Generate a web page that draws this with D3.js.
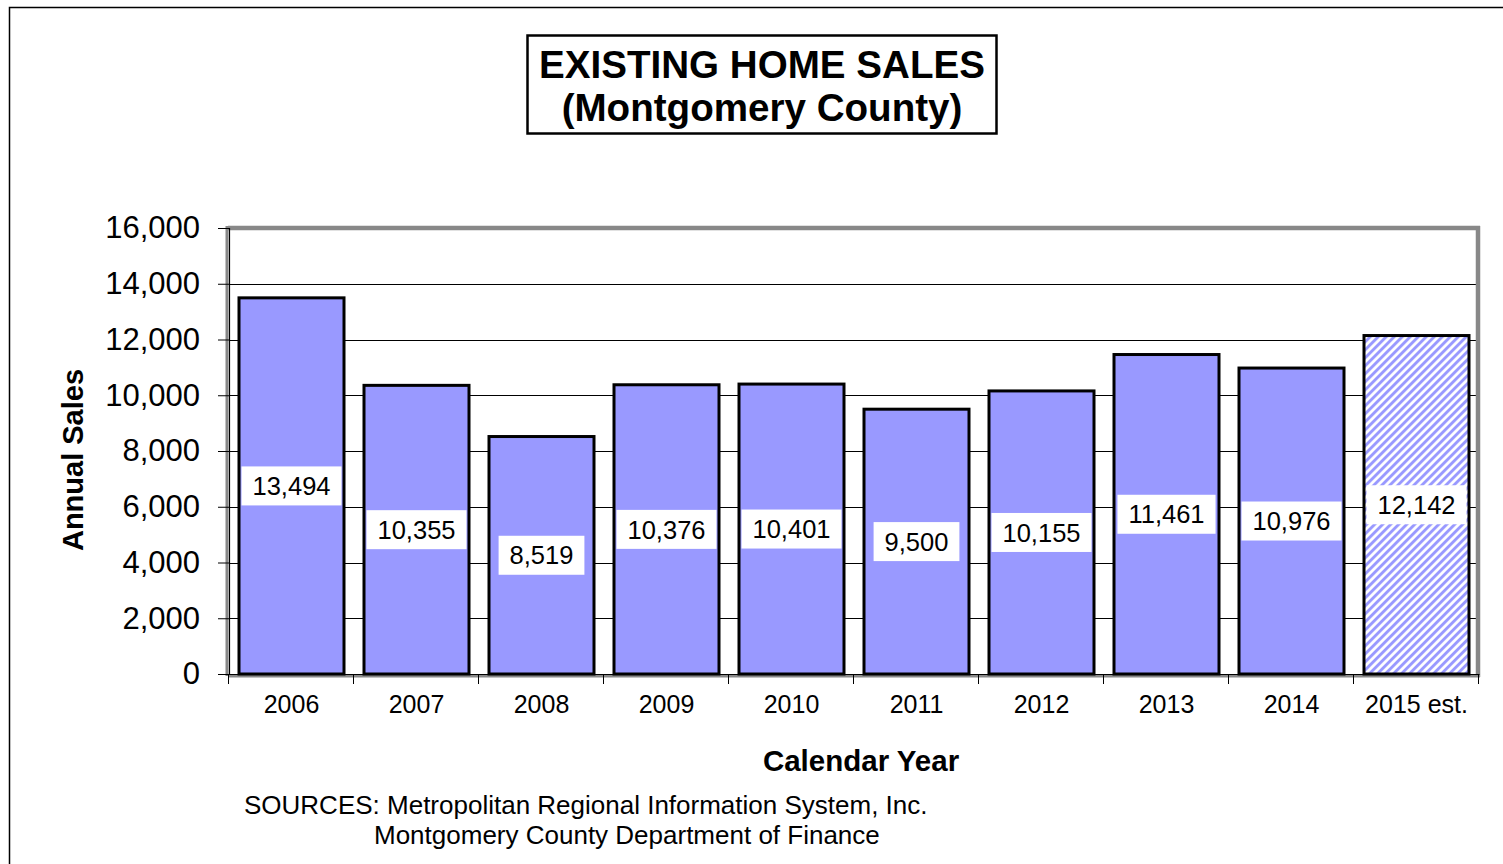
<!DOCTYPE html>
<html>
<head>
<meta charset="utf-8">
<script src="https://cdn.jsdelivr.net/npm/d3@7"></script>
<style>
  html, body { margin: 0; padding: 0; background: #fff; }
  svg { display: block; font-family: Arial, "Liberation Sans", sans-serif; }
</style>
</head>
<body>
<svg id="chart" width="1503" height="864"></svg>
<script>
// Annual existing home sales, Montgomery County
const years = ["2006", "2007", "2008", "2009", "2010", "2011", "2012", "2013", "2014", "2015 est."];
const sales = [13494, 10355, 8519, 10376, 10401, 9500, 10155, 11461, 10976, 12142];
const estimated = [false, false, false, false, false, false, false, false, false, true];
const yTicks = [0, 2000, 4000, 6000, 8000, 10000, 12000, 14000, 16000];
const titleLines = ["EXISTING HOME SALES", "(Montgomery County)"];
const sourceLines = ["SOURCES: Metropolitan Regional Information System, Inc.",
                     "Montgomery County Department of Finance"];

const svg = d3.select("#chart");
const fmt = d3.format(",");
const barColor = "#9999ff";
const wallGray = "#888888";

// plot area
const plot = { left: 229, right: 1479, top: 228, bottom: 674 };

const x = d3.scaleBand()
  .domain(years)
  .range([plot.left, plot.right])
  .paddingInner(0.16)
  .paddingOuter(0.08);

const y = d3.scaleLinear()
  .domain([0, 16000])
  .range([plot.bottom, plot.top]);

// hatch pattern for the estimate
const defs = svg.append("defs");
const pat = defs.append("pattern")
  .attr("id", "hatch")
  .attr("patternUnits", "userSpaceOnUse")
  .attr("width", 5.66).attr("height", 8)
  .attr("patternTransform", "rotate(45)");
pat.append("rect").attr("width", 5.66).attr("height", 8).attr("fill", "#fff");
pat.append("rect").attr("width", 2.9).attr("height", 8).attr("fill", barColor);

// outer frame
svg.append("rect")
  .attr("x", 9.5).attr("y", 7.5)
  .attr("width", 1600).attr("height", 1000)
  .attr("fill", "none").attr("stroke", "#000").attr("stroke-width", 1.5);

// title box
const tb = svg.append("g");
tb.append("rect")
  .attr("x", 527.5).attr("y", 35.5)
  .attr("width", 469).attr("height", 98)
  .attr("fill", "#fff").attr("stroke", "#000").attr("stroke-width", 2.5);
tb.selectAll("text").data(titleLines).join("text")
  .attr("x", 762)
  .attr("y", (d, i) => 78 + i * 43)
  .attr("text-anchor", "middle")
  .attr("font-size", 38.6).attr("font-weight", "bold")
  .text(d => d);

// gridlines
svg.append("g")
  .selectAll("line").data(yTicks.filter(t => t > 0 && t < 16000)).join("line")
  .attr("x1", plot.left).attr("x2", plot.right - 2)
  .attr("y1", d => Math.round(y(d)) + 0.5).attr("y2", d => Math.round(y(d)) + 0.5)
  .attr("stroke", "#000").attr("stroke-width", 1);

// shaded wall edges
const walls = svg.append("g").attr("stroke", wallGray).attr("fill", "none");
walls.append("line").attr("x1", plot.left - 1).attr("x2", plot.right + 1)
  .attr("y1", plot.top).attr("y2", plot.top).attr("stroke-width", 4.5);
walls.append("line").attr("x1", plot.right - 1).attr("x2", plot.right - 1)
  .attr("y1", plot.top - 2).attr("y2", plot.bottom + 3).attr("stroke-width", 4.5);
walls.append("line").attr("x1", plot.left - 2).attr("x2", plot.left - 2)
  .attr("y1", plot.top - 2).attr("y2", plot.bottom + 2).attr("stroke-width", 3);
walls.append("line").attr("x1", plot.left).attr("x2", plot.right + 1)
  .attr("y1", plot.bottom + 2).attr("y2", plot.bottom + 2).attr("stroke-width", 3);

// bars
svg.append("g")
  .selectAll("rect").data(years).join("rect")
  .attr("x", d => x(d))
  .attr("y", (d, i) => y(sales[i]))
  .attr("width", x.bandwidth())
  .attr("height", (d, i) => y(0) - y(sales[i]))
  .attr("fill", (d, i) => estimated[i] ? "url(#hatch)" : barColor)
  .attr("stroke", "#000").attr("stroke-width", 3);

// y axis
const yAxis = svg.append("g")
  .attr("transform", `translate(${plot.left},0)`)
  .call(d3.axisLeft(y).tickValues(yTicks).tickFormat(fmt).tickSize(11).tickPadding(18));
yAxis.select(".domain").attr("stroke", "#000").attr("stroke-width", 1.2);
yAxis.selectAll(".tick line").attr("stroke", "#000");
yAxis.selectAll(".tick text")
  .attr("font-size", 31).attr("fill", "#000")
  .attr("font-family", "Arial, 'Liberation Sans', sans-serif");

// x axis: labels centred in bands, tick marks on band boundaries
const xAxis = svg.append("g")
  .attr("transform", `translate(0,${plot.bottom})`)
  .call(d3.axisBottom(x).tickSize(0).tickPadding(21));
xAxis.select(".domain").attr("stroke", "#000").attr("stroke-width", 1.2);
xAxis.selectAll(".tick text")
  .attr("font-size", 25).attr("fill", "#000")
  .attr("font-family", "Arial, 'Liberation Sans', sans-serif");
const half = (x.step() - x.bandwidth()) / 2;
const bounds = years.map(d => x(d) - half).concat([x(years[years.length - 1]) + x.bandwidth() + half]);
xAxis.append("g").selectAll("line").data(bounds).join("line")
  .attr("x1", d => d - 0.5).attr("x2", d => d - 0.5)
  .attr("y1", 0).attr("y2", 10)
  .attr("stroke", "#000").attr("stroke-width", 1);

// value labels on white boxes, centred at mid-height of each bar
const lbl = svg.append("g").selectAll("g").data(years).join("g")
  .attr("transform", (d, i) => `translate(${x(d) + x.bandwidth() / 2},${y(sales[i] / 2)})`);
lbl.append("text")
  .attr("text-anchor", "middle").attr("dy", "0.36em")
  .attr("font-size", 25.5)
  .text((d, i) => fmt(sales[i]));
lbl.each(function () {
  const g = d3.select(this);
  const bb = g.select("text").node().getBBox();
  g.insert("rect", "text")
    .attr("x", bb.x - 11).attr("y", -19.5)
    .attr("width", bb.width + 22).attr("height", 39)
    .attr("fill", "#fff");
});

// axis titles
svg.append("text")
  .attr("transform", "translate(83,460) rotate(-90)")
  .attr("text-anchor", "middle")
  .attr("font-size", 29).attr("font-weight", "bold")
  .text("Annual Sales");
svg.append("text")
  .attr("x", 861).attr("y", 771)
  .attr("text-anchor", "middle")
  .attr("font-size", 29.5).attr("font-weight", "bold")
  .text("Calendar Year");

// sources
svg.append("g").selectAll("text").data(sourceLines).join("text")
  .attr("x", (d, i) => i === 0 ? 244 : 374)
  .attr("y", (d, i) => 814 + i * 30)
  .attr("font-size", 26)
  .text(d => d);
</script>
</body>
</html>
